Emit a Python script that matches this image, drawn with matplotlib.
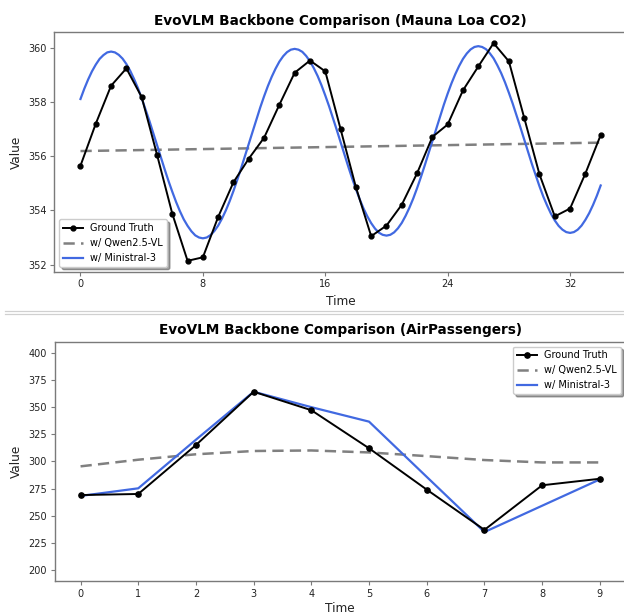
import matplotlib
matplotlib.use("Agg")
import matplotlib.pyplot as plt
from matplotlib.lines import Line2D

# ---------------- Data: Mauna Loa CO2 ----------------
co2_time = list(range(35))
co2_truth = [355.65, 357.20, 358.60, 359.24, 358.18, 356.06, 353.88, 352.14, 352.27, 353.76,
             355.04, 355.91, 356.68, 357.90, 359.08, 359.53, 359.13, 357.00, 354.86, 353.05,
             353.44, 354.21, 355.37, 356.71, 357.17, 358.43, 359.31, 360.17, 359.50, 357.42,
             355.33, 353.78, 354.07, 355.36, 356.78]
co2_qwen_time = [0, 34]
co2_qwen = [356.19, 356.50]
co2_min_time = [i / 4 for i in range(137)]
co2_ministral = [
    358.11, 358.49, 358.83, 359.13, 359.38, 359.59, 359.73, 359.83,
    359.86, 359.83, 359.74, 359.60, 359.40, 359.15, 358.85, 358.52,
    358.14, 357.73, 357.31, 356.86, 356.41, 355.96, 355.52, 355.09,
    354.69, 354.31, 353.97, 353.67, 353.43, 353.23, 353.08, 353.00,
    352.97, 353.00, 353.09, 353.24, 353.44, 353.70, 354.00, 354.34,
    354.72, 355.13, 355.56, 356.01, 356.46, 356.92, 357.37, 357.80,
    358.21, 358.59, 358.93, 359.23, 359.49, 359.69, 359.84, 359.93,
    359.96, 359.93, 359.85, 359.70, 359.50, 359.25, 358.96, 358.62,
    358.24, 357.84, 357.41, 356.97, 356.52, 356.06, 355.62, 355.19,
    354.79, 354.41, 354.07, 353.78, 353.53, 353.33, 353.18, 353.10,
    353.07, 353.10, 353.19, 353.34, 353.54, 353.80, 354.10, 354.44,
    354.82, 355.23, 355.66, 356.11, 356.57, 357.02, 357.47, 357.90,
    358.31, 358.69, 359.03, 359.33, 359.59, 359.79, 359.94, 360.03,
    360.06, 360.03, 359.95, 359.80, 359.61, 359.35, 359.06, 358.72,
    358.34, 357.94, 357.51, 357.07, 356.62, 356.17, 355.72, 355.30,
    354.89, 354.51, 354.18, 353.88, 353.63, 353.43, 353.29, 353.20,
    353.17, 353.20, 353.29, 353.44, 353.65, 353.90, 354.20, 354.54,
    354.92]
co2_xticks = [0, 8, 16, 24, 32]
co2_yticks = [352, 354, 356, 358, 360]

# ---------------- Data: AirPassengers ----------------
air_time = list(range(10))
air_truth = [269, 270, 315, 364, 347, 312, 274, 237, 278, 284]
air_qwen = [295.4, 301.5, 306.5, 309.5, 310.0, 308.2, 304.8, 301.2, 299.0, 299.0]
air_ministral = [268.2, 275.2, 319.9, 364.0, 349.8, 336.5, 285.7, 235.0, 259.2, 283.4]
air_yticks = [200, 225, 250, 275, 300, 325, 350, 375, 400]

titles = ["EvoVLM Backbone Comparison (Mauna Loa CO2)",
          "EvoVLM Backbone Comparison (AirPassengers)"]
labels = ["Ground Truth", "w/ Qwen2.5-VL", "w/ Ministral-3"]

BLUE = "#4169e1"
GRAY = "#808080"
SPINE = "#7a7a7a"
TXT = "#222222"

fig = plt.figure(figsize=(6.24, 6.15), dpi=100)


def style(ax, xpad):
    for s in ax.spines.values():
        s.set_color(SPINE)
        s.set_linewidth(1.0)
    ax.tick_params(colors=SPINE, labelcolor=TXT, labelsize=7, length=3, width=0.8, pad=2.5)
    ax.set_xlabel("Time", fontsize=8.7, color=TXT, labelpad=xpad)
    ax.set_ylabel("Value", fontsize=8.7, color=TXT, labelpad=4)


# Top chart
ax1 = fig.add_axes([0.0873, 0.5582, 0.917, 0.3893])
ax1.plot(co2_time, co2_truth, color="black", lw=1.4, marker="o", ms=3.5, label=labels[0], zorder=3)
ax1.plot(co2_qwen_time, co2_qwen, color=GRAY, lw=1.8, ls=(0, (4.5, 2.5)), label=labels[1], zorder=2)
ax1.plot(co2_min_time, co2_ministral, color=BLUE, lw=1.6, label=labels[2], zorder=2)
ax1.set_xticks(co2_xticks)
ax1.set_yticks(co2_yticks)
ax1.set_title(titles[0], fontsize=9.8, fontweight="bold", pad=5.5)
style(ax1, 4)
ax1.legend(loc="lower left", fontsize=7, shadow=True, framealpha=1, fancybox=True,
           edgecolor="#cccccc")

# Bottom chart
ax2 = fig.add_axes([0.0875, 0.0553, 0.9154, 0.3891])
ax2.plot(air_time, air_truth, color="black", lw=1.4, marker="o", ms=3.8, label=labels[0], zorder=3)
ax2.plot(air_time, air_qwen, color=GRAY, lw=1.8, ls=(0, (4.5, 2.5)), label=labels[1], zorder=2)
ax2.plot(air_time, air_ministral, color=BLUE, lw=1.6, label=labels[2], zorder=2)
ax2.set_xticks(air_time)
ax2.set_yticks(air_yticks)
ax2.set_ylim(190, 410)
ax2.set_title(titles[1], fontsize=9.8, fontweight="bold", pad=5.5)
style(ax2, 2.5)
ax2.legend(loc="upper right", fontsize=7, shadow=True, framealpha=1, fancybox=True,
           edgecolor="#cccccc")

# separator lines between the two panels
for yy in (311.0, 313.5):
    fig.add_artist(Line2D([5 / 624, 1.0], [1 - yy / 615, 1 - yy / 615],
                          transform=fig.transFigure, color="#d0d0d0", lw=0.9))

fig.savefig("out.png", dpi=100)
